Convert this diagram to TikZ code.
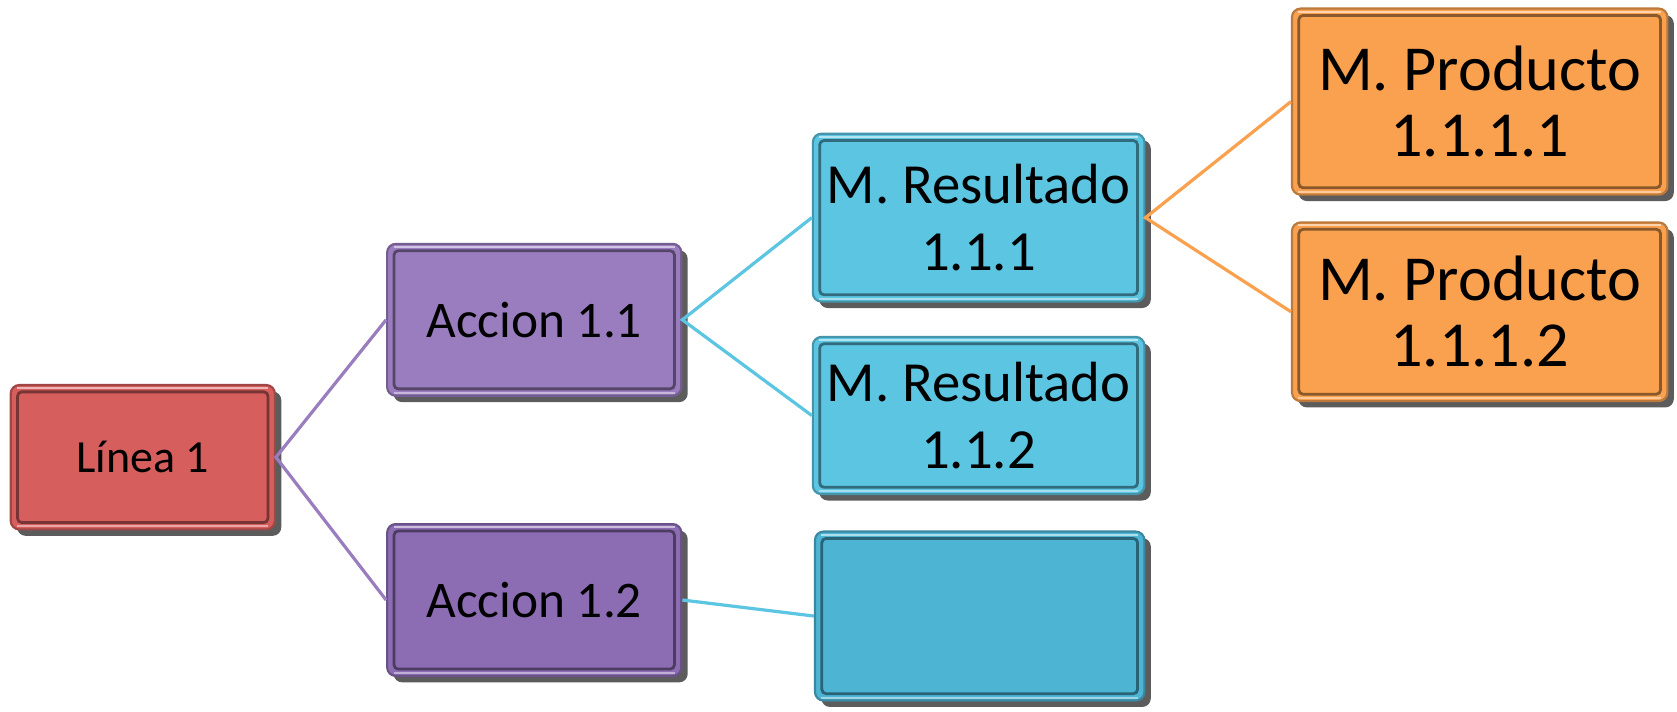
\documentclass[tikz,border=0pt]{standalone}
\usepackage{fontspec}
\setmainfont{Carlito}
\usetikzlibrary{shadows}
\definecolor{cred}{HTML}{D65F5E}
\definecolor{cpur}{HTML}{9A7DBF}
\definecolor{cpurd}{HTML}{8C6DB3}
\definecolor{ccya}{HTML}{5CC5E1}
\definecolor{ccyad}{HTML}{4DB4D4}
\definecolor{cora}{HTML}{F9A14F}
\tikzset{
  bx/.style={rectangle, rounded corners=4pt, fill=#1, draw=#1!75!black,
    line width=1pt, inner sep=0pt, align=center, text=black,
    drop shadow={shadow xshift=3pt, shadow yshift=-3pt, opacity=0.85, fill=black!75},
    path picture={
      \draw[#1!55!black, line width=1.3pt, rounded corners=2pt]
        ([shift={(3.2pt,-3.2pt)}]path picture bounding box.north west) rectangle
        ([shift={(-3.2pt,3.2pt)}]path picture bounding box.south east);
      \draw[white, opacity=0.55, line width=0.9pt]
        ([shift={(3pt,-1.4pt)}]path picture bounding box.north west) --
        ([shift={(-3pt,-1.4pt)}]path picture bounding box.north east);
      \draw[white, opacity=0.45, line width=0.9pt]
        ([shift={(3pt,1.4pt)}]path picture bounding box.south west) --
        ([shift={(-3pt,1.4pt)}]path picture bounding box.south east);
    }},
  conn/.style={line width=1.5pt, draw=#1},
}
\begin{document}
\begin{tikzpicture}[x=0.5pt,y=-0.5pt]
\useasboundingbox (0,0) rectangle (1568,665);
\node[bx=cred, minimum width=123.5pt, minimum height=67.5pt, font=\fontsize{21.5}{25}\selectfont] (l1) at (133.5,427.5) {Línea 1};
\node[bx=cpur, minimum width=137.5pt, minimum height=71pt, font=\fontsize{24}{28}\selectfont] (a11) at (499.5,299) {Accion 1.1};
\node[bx=cpurd, minimum width=137.5pt, minimum height=71pt, font=\fontsize{24}{28}\selectfont] (a12) at (499.5,561) {Accion 1.2};
\node[bx=ccya, minimum width=155pt, minimum height=78.5pt, font=\fontsize{26.5}{31}\selectfont] (r1) at (915,203.5) {M. Resultado\\1.1.1};
\node[bx=ccya, minimum width=155pt, minimum height=73.5pt, font=\fontsize{26.5}{31}\selectfont] (r2) at (915,388.5) {M. Resultado\\1.1.2};
\node[bx=ccyad, minimum width=154pt, minimum height=79pt] (r3) at (916,576) {};
\node[bx=cora, minimum width=175.5pt, minimum height=87pt, font=\fontsize{30}{31}\selectfont] (p1) at (1383.5,95) {M. Producto\\1.1.1.1};
\node[bx=cora, minimum width=175.5pt, minimum height=83.5pt, font=\fontsize{30}{31}\selectfont] (p2) at (1383.5,291.5) {M. Producto\\1.1.1.2};
\draw[conn=cpur] (a11.west) -- (l1.east) -- (a12.west);
\draw[conn=ccya] (r1.west) -- (a11.east) -- (r2.west);
\draw[conn=ccya] (a12.east) -- (r3.west);
\draw[conn=cora] (p1.west) -- (r1.east) -- (p2.west);
\end{tikzpicture}
\end{document}
